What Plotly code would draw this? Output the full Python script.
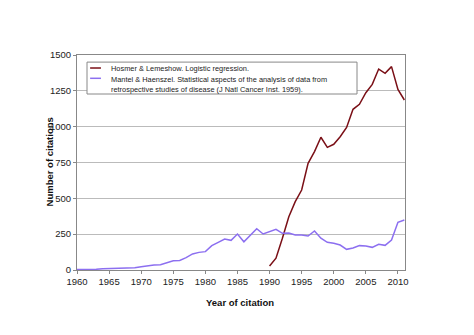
import plotly.graph_objects as go

years_hl = list(range(1990, 2012))
hosmer = [28, 82, 221, 372, 477, 558, 744, 826, 926, 856, 877, 930, 995, 1121, 1156,
          1237, 1295, 1402, 1372, 1419, 1260, 1186]

years_mh = list(range(1960, 2012))
mantel = [3, 2, 2, 5, 8, 10, 10, 12, 15, 15,
          23, 30, 35, 37, 53, 65, 67, 86, 112, 123,
          128, 170, 193, 216, 207, 251, 197, 244, 288, 251,
          267, 284, 256, 258, 244, 244, 237, 272, 222, 193,
          186, 174, 144, 153, 170, 167, 158, 179, 172, 209,
          333, 349]

x_ticks = [1960, 1965, 1970, 1975, 1980, 1985, 1990, 1995, 2000, 2005, 2010]
y_ticks = [0, 250, 500, 750, 1000, 1250, 1500]

name_hl = "Hosmer & Lemeshow. Logistic regression."
name_mh = ("Mantel & Haenszel. Statistical aspects of the analysis of data from<br>"
           "retrospective studies of disease (J Natl Cancer Inst. 1959).")

RED = "#7a0f16"
PURPLE = "#8c6ff0"

fig = go.Figure()
fig.add_trace(go.Scatter(x=years_hl, y=hosmer, mode="lines", name=name_hl,
                         line=dict(color=RED, width=1.5), showlegend=False))
fig.add_trace(go.Scatter(x=years_mh, y=mantel, mode="lines", name=name_mh,
                         line=dict(color=PURPLE, width=1.5), showlegend=False))

# compact legend box (drawn in paper coordinates)
fig.add_shape(type="rect", xref="paper", yref="paper", x0=0.0305, x1=0.8537,
              y0=0.8186, y1=0.967, line=dict(color="#888", width=1), fillcolor="white",
              layer="above")
fig.add_shape(type="line", xref="paper", yref="paper", x0=0.040, x1=0.073,
              y0=0.9395, y1=0.9395, line=dict(color=RED, width=1.5), layer="above")
fig.add_shape(type="line", xref="paper", yref="paper", x0=0.040, x1=0.073,
              y0=0.8916, y1=0.8916, line=dict(color=PURPLE, width=1.5), layer="above")
fig.add_annotation(xref="paper", yref="paper", x=0.0985, y=0.9395, text=name_hl,
                   showarrow=False, xanchor="left", yanchor="middle", align="left",
                   font=dict(size=7.4, color="#222"))
fig.add_annotation(xref="paper", yref="paper", x=0.0985, y=0.8916, text=name_mh,
                   showarrow=False, xanchor="left", yanchor="top", align="left",
                   yshift=5, font=dict(size=7.4, color="#222"))

# axis titles
fig.add_annotation(xref="paper", yref="paper", x=-0.0854, y=0.505,
                   text="<b>Number of citations</b>", textangle=-90, showarrow=False,
                   xanchor="center", yanchor="middle", font=dict(size=9.5, color="#111"))
fig.add_annotation(xref="paper", yref="paper", x=0.497, y=-0.149,
                   text="<b>Year of citation</b>", showarrow=False,
                   xanchor="center", yanchor="middle", font=dict(size=9.5, color="#111"))

fig.update_layout(
    width=474, height=335,
    margin=dict(l=77, r=69, t=55, b=65),
    paper_bgcolor="white", plot_bgcolor="white",
    font=dict(family="Liberation Sans, Arial, sans-serif", size=9.5, color="#222"),
    showlegend=False,
    xaxis=dict(range=[1960, 2011.1], tickvals=x_ticks, showgrid=False,
               showline=True, linecolor="#888", linewidth=1, mirror=True,
               ticks="outside", ticklen=3, tickcolor="#888", zeroline=False),
    yaxis=dict(range=[0, 1500], tickvals=y_ticks, showgrid=True, gridcolor="#bbb",
               showline=True, linecolor="#888", linewidth=1, mirror=True,
               ticks="outside", ticklen=3, tickcolor="#888", zeroline=False),
)

fig.write_html("out.html")
